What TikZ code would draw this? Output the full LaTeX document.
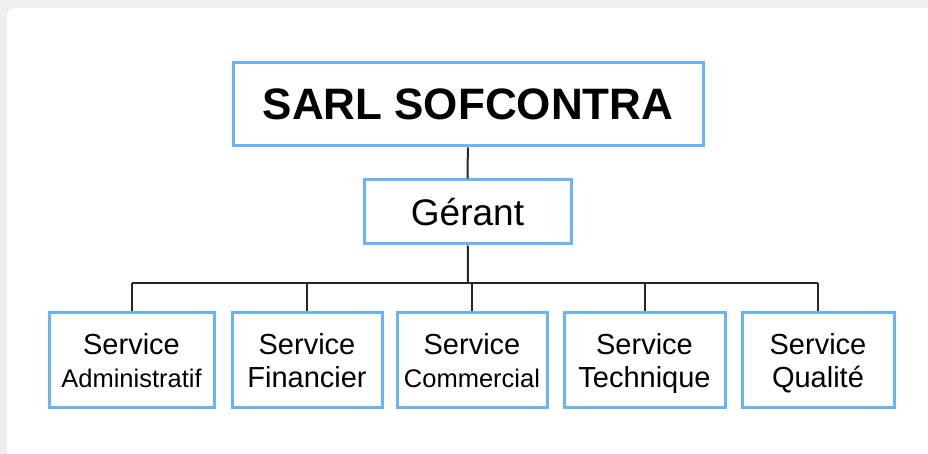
\documentclass[tikz,border=0pt]{standalone}
\usepackage{fontspec}
\setmainfont{Liberation Sans}
\definecolor{cadre}{HTML}{6AB4F5}
\definecolor{fond}{HTML}{EFEFEF}
\newcommand\petit{\fontsize{12.75}{16.5}\selectfont}

\begin{document}
\begin{tikzpicture}[x=0.5pt,y=-0.5pt]
	\tikzset{boite/.style={draw=cadre, line width=1.5pt, fill=white, inner sep=0pt, align=center},
	service/.style={boite, minimum height=47.5pt, font=\fontsize{14.5}{16.5}\selectfont},
	lien/.style={line width=1pt, draw=black!85}};

	\useasboundingbox (0,0) rectangle (928,454);
	\fill[fond] (0,0) rectangle (928,454);
	\fill[white, rounded corners=4pt] (7,8) rectangle (940,470);

	\node[boite, minimum width=235pt, minimum height=41.5pt, font=\bfseries\fontsize{22}{26}\selectfont] (sarl) at (468,104.5) {SARL SOFCONTRA};
	\node[boite, minimum width=103.5pt, minimum height=32pt, font=\fontsize{18.5}{22}\selectfont] (gerant) at (467.5,212) {Gérant};

	\foreach \n/\x/\w/\txt in {1/131.5/82.5pt/{\petit Administratif},
		2/307/75pt/{Financier},
		3/472/75pt/{\petit Commercial},
		4/644.5/80.5pt/{Technique},
		5/818/76pt/{Qualité}}{
		\node[service, minimum width=\w] (s\n) at (\x,360.5) {Service\\\smash{\txt}};
	}

	\coordinate (bus) at (468,283);

	\draw[lien] (sarl) -- (gerant) -- (bus);
	\draw[lien] (s1.north |- bus) -- (s5.north |- bus);
	\foreach \n in {1,...,5}{
		\draw[lien] (s\n.north) -- (s\n.north |- bus);
	}

\end{tikzpicture}
\end{document}
